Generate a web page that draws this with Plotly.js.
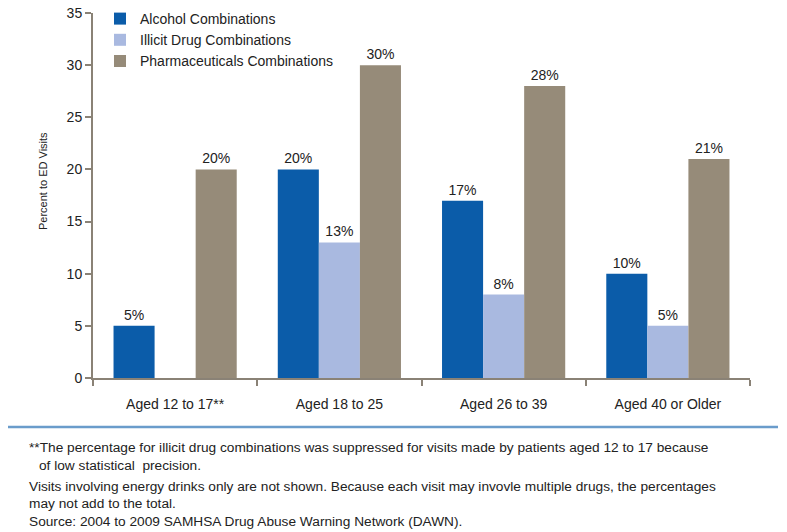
<!DOCTYPE html>
<html>
<head>
<meta charset="utf-8">
<script src="https://cdn.plot.ly/plotly-3.0.1.min.js"></script>
<style>
  html, body { margin: 0; padding: 0; background: #ffffff; }
  #chart { width: 787px; height: 532px; }
</style>
</head>
<body>
<div id="chart"></div>
<script>
const ageGroups = ["Aged 12 to 17**", "Aged 18 to 25", "Aged 26 to 39", "Aged 40 or Older"];
const alcohol = [5, 20, 17, 10];
const illicit = [null, 13, 8, 5];
const pharma = [20, 30, 28, 21];

const seriesNames = ["Alcohol Combinations", "Illicit Drug Combinations", "Pharmaceuticals Combinations"];
const seriesColors = ["#0b5ca9", "#a9b9e0", "#968b79"];
const yTitle = "Percent to ED Visits";

const footnotes = [
  "**The percentage for illicit drug combinations was suppressed for visits made by patients aged 12 to 17 because",
  "of low statistical  precision.",
  "Visits involving energy drinks only are not shown. Because each visit may invovle multiple drugs, the percentages",
  "may not add to the total.",
  "Source: 2004 to 2009 SAMHSA Drug Abuse Warning Network (DAWN)."
];

const baseFont = "Liberation Sans, Arial, Helvetica, sans-serif";
const axisColor = "#8a8276";

function makeTrace(values, idx) {
  return {
    type: "bar",
    name: seriesNames[idx],
    x: ageGroups,
    y: values,
    text: values.map(v => (v === null ? "" : v + "%")),
    textposition: "outside",
    textfont: { family: baseFont, size: 14, color: "#222222" },
    constraintext: "none",
    cliponaxis: false,
    marker: { color: seriesColors[idx], line: { width: 0 } },
    hoverinfo: "skip"
  };
}

const traces = [makeTrace(alcohol, 0), makeTrace(illicit, 1), makeTrace(pharma, 2)];

// plot area in pixels: x 93..750, y 13..378
const W = 787, H = 532;
const plotLeft = 93, plotWidth = 657, plotBottom = 378, plotHeight = 365;
const px = x => (x - plotLeft) / plotWidth;
const py = y => (plotBottom - y) / plotHeight;

const noteLines = [
  { x: 27, y: 448 },
  { x: 37, y: 465 },
  { x: 27, y: 486 },
  { x: 27, y: 503 },
  { x: 27, y: 521 }
];

const annotations = footnotes.map((t, i) => ({
  text: t,
  xref: "paper", yref: "paper",
  x: px(noteLines[i].x), y: py(noteLines[i].y),
  xanchor: "left", yanchor: "middle",
  showarrow: false,
  font: { family: baseFont, size: 13.7, color: "#222222" }
}));

// y axis title, drawn as a rotated annotation
annotations.push({
  text: yTitle,
  xref: "paper", yref: "paper",
  x: px(43), y: py(181),
  xanchor: "center", yanchor: "middle",
  textangle: -90,
  showarrow: false,
  font: { family: baseFont, size: 11, color: "#222222" }
});

const layout = {
  width: W,
  height: H,
  margin: { l: plotLeft, r: W - plotLeft - plotWidth, t: 13, b: H - plotBottom, autoexpand: false },
  paper_bgcolor: "#ffffff",
  plot_bgcolor: "#ffffff",
  font: { family: baseFont, size: 14, color: "#222222" },
  barmode: "group",
  bargap: 0.25,
  bargroupgap: 0,
  showlegend: true,
  legend: {
    xref: "container", yref: "container",
    x: 100 / W, y: 1 - 3 / H,
    xanchor: "left", yanchor: "top",
    bgcolor: "rgba(0,0,0,0)",
    font: { family: baseFont, size: 14, color: "#222222" },
    traceorder: "normal"
  },
  xaxis: {
    type: "category",
    showline: true,
    linecolor: axisColor,
    linewidth: 2,
    ticks: "outside",
    tickson: "boundaries",
    ticklen: 6,
    tickwidth: 2,
    tickcolor: axisColor,
    ticklabelstandoff: 12,
    showgrid: false,
    zeroline: false,
    tickfont: { family: baseFont, size: 14, color: "#222222" },
    fixedrange: true
  },
  yaxis: {
    range: [0, 35],
    dtick: 5,
    showline: true,
    linecolor: axisColor,
    linewidth: 2,
    ticks: "outside",
    ticklen: 6,
    tickwidth: 2,
    tickcolor: axisColor,
    showgrid: false,
    zeroline: false,
    tickfont: { family: baseFont, size: 14, color: "#222222" },
    fixedrange: true
  },
  shapes: [{
    type: "line",
    xref: "paper", yref: "paper",
    x0: px(8), x1: px(778),
    y0: py(427), y1: py(427),
    line: { color: "#6a9ccb", width: 2.5 }
  }],
  annotations: annotations
};

Plotly.newPlot("chart", traces, layout, { displayModeBar: false, staticPlot: true });
</script>
</body>
</html>
